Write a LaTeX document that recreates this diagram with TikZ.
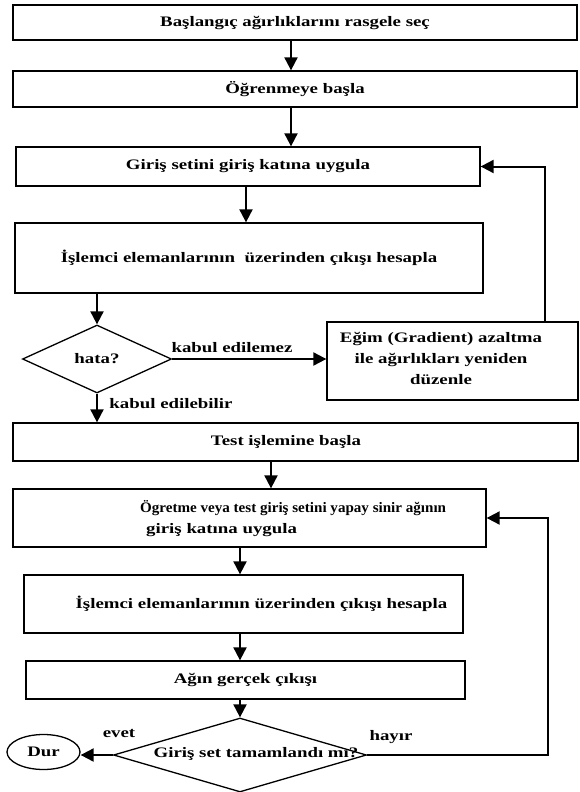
\documentclass[tikz,border=0pt]{standalone}
\usepackage{fontspec}
\setmainfont[FakeStretch=1.3]{Liberation Serif}
\usetikzlibrary{shapes.geometric,arrows.meta}
\begin{document}
\begin{tikzpicture}[x=1pt,y=-1pt,
 font=\fontsize{14.5}{21}\selectfont\bfseries,
 box/.style={draw,line width=1.3pt,rectangle,inner sep=0pt},
 dia/.style={draw,line width=1.3pt,diamond,inner sep=0pt},
 arr/.style={line width=2pt,-{Triangle[length=13pt,width=13pt]}},
 lbl/.style={inner sep=0pt}]
\useasboundingbox[fill=white] (0,0) rectangle (579,792);
% columns
\coordinate (c1) at (291,0);
\coordinate (c2) at (246,0);
\coordinate (c3) at (545,0);
\coordinate (c4) at (271,0);
\coordinate (c5) at (240,0);
\coordinate (c6) at (548,0);
% nodes
\node[box,minimum width=564pt,minimum height=35pt] (b1) at (295,22.5) {Başlangıç ağırlıklarını rasgele seç};
\node[box,minimum width=564pt,minimum height=36pt] (b2) at (295,89) {Öğrenmeye başla};
\node[box,minimum width=464pt,minimum height=39pt] (b3) at (248,166.5) {Giriş setini giriş katına uygula};
\node[box,minimum width=468pt,minimum height=70pt] (b4) at (249,258) {İşlemci elemanlarının \ üzerinden çıkışı hesapla};
\node[dia,minimum width=149pt,minimum height=68pt] (d1) at (97,359) {hata?};
\node[box,minimum width=251pt,minimum height=78pt] (b5) at (452.5,361) {};
\node[lbl,align=center] (t5) at (441,358) {Eğim (Gradient) azaltma\\ile ağırlıkları yeniden\\düzenle};
\node[box,minimum width=565pt,minimum height=38pt] (b6) at (295.5,442) {\hspace*{-19pt}Test işlemine başla};
\node[box,minimum width=473pt,minimum height=58pt] (b7) at (249.5,518) {};
\node[lbl,align=left,anchor=west] (t7) at (140,519) {\scalebox{0.8}[1]{Ögretme veya test giriş setini yapay sinir ağının}\\\hspace*{6pt}giriş katına uygula};
\node[box,minimum width=439pt,minimum height=58pt] (b8) at (243.5,604) {\hspace*{36pt}İşlemci elemanlarının üzerinden çıkışı hesapla};
\node[box,minimum width=439pt,minimum height=38pt] (b9) at (245.5,680) {Ağın gerçek çıkışı};
\node[dia,minimum width=253pt,minimum height=74pt] (d2) at (240,755) {};
\node[lbl] (t2) at (256,754) {Giriş set tamamlandı mı?};
\node[draw,line width=1.3pt,ellipse,minimum width=73pt,minimum height=35pt,inner sep=0pt] (dur) at (43.5,752) {Dur};
% labels
\node[lbl] (l1) at (232,348) {kabul edilemez};
\node[lbl] (l2) at (171,404) {kabul edilebilir};
\node[lbl] (l3) at (119,733) {evet};
\node[lbl] (l4) at (391,737) {hayır};
% connectors
\draw[arr] (b1.south -| c1) -- (b2.north -| c1);
\draw[arr] (b2.south -| c1) -- (b3.north -| c1);
\draw[arr] (b3.south -| c2) -- (b4.north -| c2);
\draw[arr] (b4.south -| d1) -- (d1.north);
\draw[arr] (d1.east) -- (d1.east -| b5.west);
\draw[arr] (b5.north -| c3) |- (b3.east);
\draw[arr] (d1.south) -- (d1.south |- b6.north);
\draw[arr] (b6.south -| c4) -- (b7.north -| c4);
\draw[arr] (b7.south -| c5) -- (b8.north -| c5);
\draw[arr] (b8.south -| c5) -- (b9.north -| c5);
\draw[arr] (b9.south -| c5) -- (d2.north);
\draw[arr] (d2.west) -- (d2.west -| dur.east);
\draw[arr] (d2.east) -- (d2.east -| c6) |- (b7.east);
\end{tikzpicture}
\end{document}
